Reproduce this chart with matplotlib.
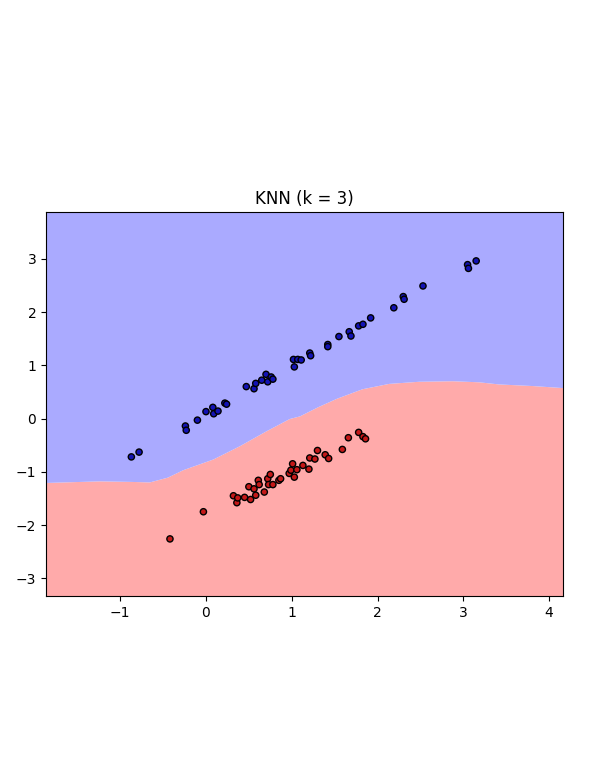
import numpy as np
import matplotlib
matplotlib.use('Agg')
import matplotlib.pyplot as plt
from matplotlib.colors import ListedColormap

# class 0 (blue) points
blue_x = [-0.87, -0.78, -0.24, -0.23, -0.10, 0.00, 0.08, 0.09, 0.14, 0.22, 0.24,
          0.47, 0.56, 0.58, 0.65, 0.70, 0.72, 0.76, 0.78, 1.02, 1.03, 1.07,
          1.11, 1.21, 1.22, 1.42, 1.42, 1.55, 1.67, 1.69, 1.78, 1.83, 1.92,
          2.19, 2.30, 2.31, 2.53, 3.05, 3.06, 3.15]
blue_y = [-0.72, -0.63, -0.14, -0.22, -0.03, 0.13, 0.21, 0.09, 0.14, 0.29, 0.27,
          0.60, 0.56, 0.66, 0.72, 0.83, 0.69, 0.78, 0.74, 1.11, 0.97, 1.11,
          1.10, 1.23, 1.18, 1.39, 1.35, 1.54, 1.63, 1.55, 1.74, 1.77, 1.89,
          2.08, 2.29, 2.24, 2.49, 2.89, 2.82, 2.96]

# class 1 (red) points
red_x = [-0.42, -0.03, 0.32, 0.36, 0.37, 0.45, 0.50, 0.52, 0.56, 0.58, 0.61,
         0.62, 0.68, 0.72, 0.73, 0.75, 0.78, 0.85, 0.87, 0.97, 0.99, 1.01,
         1.03, 1.06, 1.13, 1.20, 1.21, 1.27, 1.30, 1.39, 1.43, 1.59, 1.66,
         1.78, 1.83, 1.86]
red_y = [-2.26, -1.75, -1.45, -1.58, -1.49, -1.48, -1.28, -1.52, -1.32, -1.44, -1.16,
         -1.24, -1.38, -1.13, -1.24, -1.05, -1.24, -1.16, -1.13, -1.03, -0.97, -0.85,
         -1.10, -0.96, -0.88, -0.95, -0.74, -0.76, -0.60, -0.68, -0.75, -0.58, -0.36,
         -0.26, -0.34, -0.38]

# decision boundary (red below, blue above)
bound_x = [-1.865, -1.24, -0.89, -0.66, -0.45, -0.27, 0.08, 0.39, 0.70, 0.97, 1.09,
           1.30, 1.52, 1.82, 2.13, 2.48, 2.87, 3.18, 3.41, 3.80, 4.17]
bound_y = [-1.20, -1.17, -1.18, -1.19, -1.10, -0.96, -0.76, -0.51, -0.23, 0.00, 0.05,
           0.22, 0.38, 0.56, 0.66, 0.70, 0.71, 0.69, 0.65, 0.62, 0.58]

x_min, x_max = -1.865, 4.165
y_min, y_max = -3.33, 3.88

cmap_light = ListedColormap(['#AAAAFF', '#FFAAAA'])
cmap_bold = ListedColormap(['#1212B4', '#C41818'])

fig = plt.figure(figsize=(6, 7.82), dpi=100)
ax = fig.add_axes([0.0767, 0.2380, 0.862, 0.491])

ax.fill_between(bound_x, y_min, bound_y, color=cmap_light(1), lw=0)
ax.fill_between(bound_x, bound_y, y_max, color=cmap_light(0), lw=0)

X = np.array(blue_x + red_x)
Y = np.array(blue_y + red_y)
labels = np.array([0] * len(blue_x) + [1] * len(red_x))
ax.scatter(X, Y, c=labels, cmap=cmap_bold, edgecolor='k', s=20)

ax.set_xlim(x_min, x_max)
ax.set_ylim(y_min, y_max)
ax.set_xticks([-1, 0, 1, 2, 3, 4])
ax.set_yticks([-3, -2, -1, 0, 1, 2, 3])
ax.set_title("KNN (k = 3)")

fig.savefig('out.png', dpi=100)
